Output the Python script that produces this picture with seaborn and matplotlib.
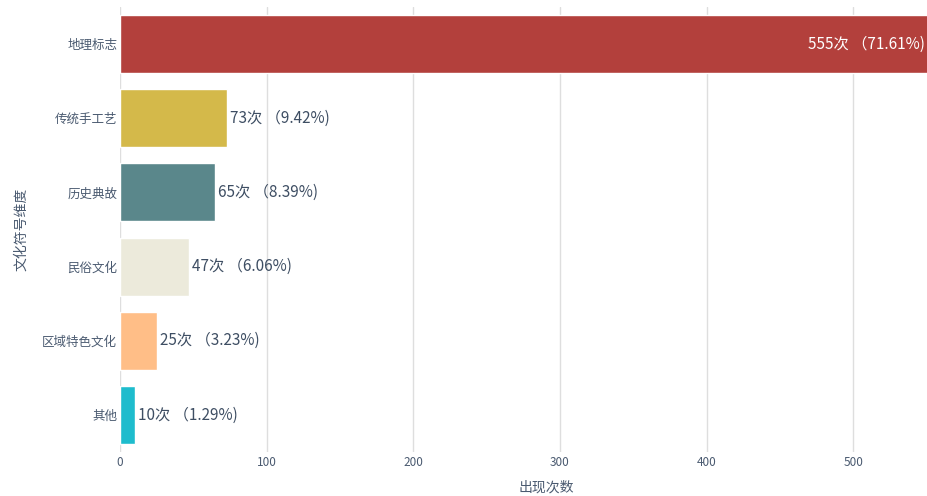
import matplotlib
matplotlib.use("Agg")
import matplotlib.pyplot as plt
import seaborn as sns
import pandas as pd

categories = ["地理标志", "传统手工艺", "历史典故", "民俗文化", "区域特色文化", "其他"]
counts = [555, 73, 65, 47, 25, 10]
percents = [71.61, 9.42, 8.39, 6.06, 3.23, 1.29]
colors = ["#b3403c", "#d4b94a", "#5a878b", "#eceadb", "#ffbe87", "#1ebccd"]

sns.set_theme(style="white")
plt.rcParams['font.family'] = ['Noto Sans CJK SC', 'DejaVu Sans']

df = pd.DataFrame({"cat": categories, "count": counts})

fig = plt.figure(figsize=(9.28, 4.96), dpi=100)
ax = fig.add_axes([120/928, 1-452/496, 1-120/928, (452-7)/496])
sns.barplot(data=df, y="cat", x="count", hue="cat", palette=colors, legend=False,
            width=0.78, ax=ax, saturation=1, orient="h")

ax.set_xlim(0, 551)
ax.set_ylim(5.5, -0.5)
ax.set_xticks([0, 100, 200, 300, 400, 500])
ax.grid(axis="x", color="#dedede", linewidth=1)
ax.set_axisbelow(True)
for s in ax.spines.values():
    s.set_visible(False)
ax.tick_params(axis="both", length=0, colors="#4a5a70")
ax.tick_params(axis="y", labelsize=9, pad=2)
ax.tick_params(axis="x", labelsize=8.5, pad=3)
ax.set_xlabel("出现次数", fontsize=10, color="#4a5a70")
ax.xaxis.set_label_coords((546-120)/(928-120), -(488-452)/445, transform=ax.transAxes)
ax.xaxis.label.set_va("center")
ax.set_ylabel("文化符号维度", fontsize=10, color="#4a5a70", labelpad=10)

for i, (c, p) in enumerate(zip(counts, percents)):
    label = f"{c}次 （{p:.2f}%)"
    if i == 0:
        ax.text(549, i, label, ha="right", va="center", color="white", fontsize=11)
    else:
        ax.text(c + 2, i, label, ha="left", va="center", color="#3e4e63", fontsize=11)

fig.savefig("out.png", dpi=100)
